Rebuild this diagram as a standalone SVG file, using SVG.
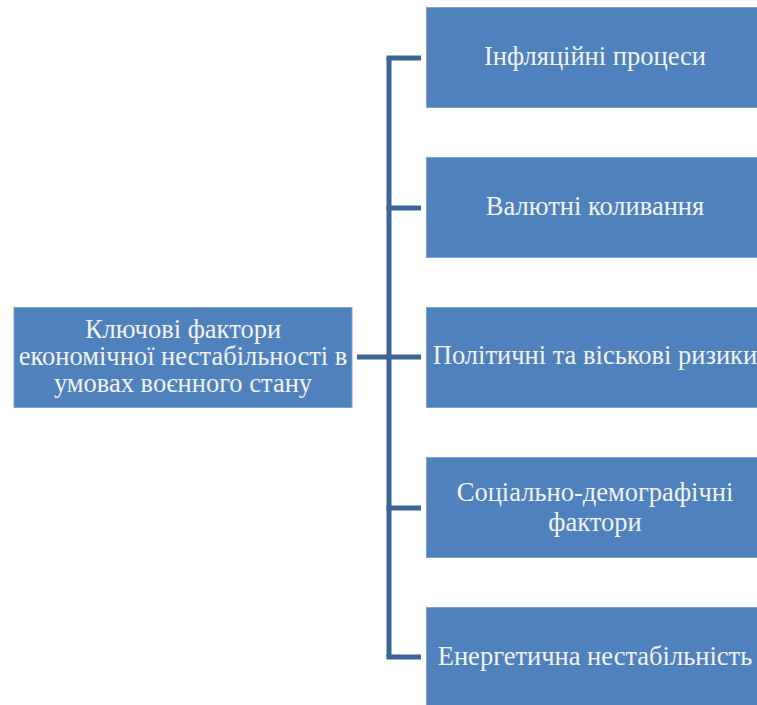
<svg xmlns="http://www.w3.org/2000/svg" width="757" height="705" viewBox="0 0 757 705">
<style>
.box{fill:#4F81BD;stroke:#7FA3CF;stroke-width:1}
.t{font-family:"Liberation Serif","DejaVu Serif",serif;font-size:26.5px;fill:#F2F2F2;text-anchor:middle}
.c{fill:none;stroke:#3C6496;stroke-width:5}
</style>
<rect width="757" height="705" fill="#FFFFFF"/>
<g id="connectors">
<path class="c" d="M357 357H421"/>
<path class="c" d="M389 58V657"/>
<path class="c" d="M386.5 58H421M386.5 208H421M386.5 508H421M386.5 657H421"/>
</g>
<g id="root">
<rect class="box" x="14" y="307.5" width="338" height="100"/>
<text class="t" x="183" y="338">Ключові фактори</text>
<text class="t" x="183" y="365">економічної нестабільності в</text>
<text class="t" x="183" y="392">умовах воєнного стану</text>
</g>
<g id="n1">
<rect class="box" x="426.5" y="7.5" width="338" height="100"/>
<text class="t" x="595" y="65">Інфляційні процеси</text>
</g>
<g id="n2">
<rect class="box" x="426.5" y="157.5" width="338" height="100"/>
<text class="t" x="595" y="215">Валютні коливання</text>
</g>
<g id="n3">
<rect class="box" x="426.5" y="307.5" width="338" height="100"/>
<text class="t" x="595" y="364">Політичні та віськові ризики</text>
</g>
<g id="n4">
<rect class="box" x="426.5" y="457.5" width="338" height="100"/>
<text class="t" x="595" y="501">Соціально-демографічні</text>
<text class="t" x="595" y="531">фактори</text>
</g>
<g id="n5">
<rect class="box" x="426.5" y="607.5" width="338" height="100"/>
<text class="t" x="595" y="665">Енергетична нестабільність</text>
</g>
</svg>
